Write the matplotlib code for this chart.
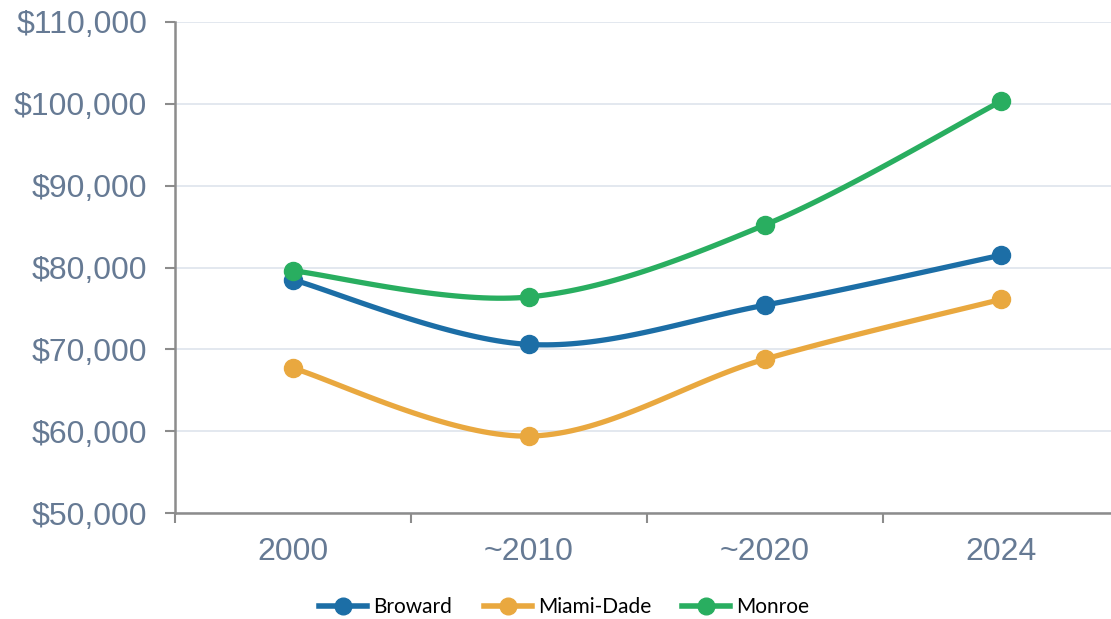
import matplotlib
matplotlib.use('Agg')
import matplotlib.pyplot as plt
from matplotlib.ticker import FuncFormatter
import numpy as np

categories = ['2000', '~2010', '~2020', '2024']
broward = [78500, 70600, 75400, 81500]
miami_dade = [67700, 59400, 68800, 76100]
monroe = [79600, 76400, 85200, 100300]

series = [
    ('Broward', broward, '#1c6ea6'),
    ('Miami-Dade', miami_dade, '#e9a83f'),
    ('Monroe', monroe, '#29ae60'),
]


def smooth_curve(xs, ys, steps=40):
    # Excel-style smoothed line: cubic Bezier segments, Catmull-Rom control points
    xs = np.asarray(xs, dtype=float)
    ys = np.asarray(ys, dtype=float)
    pts = np.column_stack([xs, ys])
    n = len(pts)
    out = []
    t = np.linspace(0, 1, steps)[:, None]
    for i in range(n - 1):
        p0 = pts[max(i - 1, 0)]
        p1 = pts[i]
        p2 = pts[i + 1]
        p3 = pts[min(i + 2, n - 1)]
        c1 = p1 + (p2 - p0) / 6.0
        c2 = p2 - (p3 - p1) / 6.0
        seg = ((1 - t) ** 3) * p1 + 3 * ((1 - t) ** 2) * t * c1 + 3 * (1 - t) * t ** 2 * c2 + t ** 3 * p2
        out.append(seg if i == 0 else seg[1:])
    out = np.vstack(out)
    return out[:, 0], out[:, 1]


label_color = '#667a94'
spine_color = '#8c8c8c'

fig = plt.figure(figsize=(11.11, 6.19), dpi=100)
ax = fig.add_axes([0.1575, 0.1712, 0.8496, 0.7933])

x = np.arange(len(categories))
handles = []
for name, vals, color in series:
    sx, sy = smooth_curve(x, vals)
    ax.plot(sx, sy, color=color, linewidth=3.8, solid_capstyle='round', zorder=3)
    ax.plot(x, vals, 'o', color=color, markersize=13, zorder=4)
    h, = ax.plot([], [], color=color, linewidth=4, marker='o', markersize=12, label=name)
    handles.append(h)

ax.set_xlim(-0.5, 3.5)
ax.set_ylim(50000, 110000)
ax.set_yticks(np.arange(50000, 110001, 10000))
ax.yaxis.set_major_formatter(FuncFormatter(lambda v, p: f'${v:,.0f}'))
ax.set_xticks(x)
ax.set_xticklabels(categories)
ax.set_xticks(np.arange(-0.5, 4.0, 1.0), minor=True)

ax.grid(axis='y', color='#e1e6ee', linewidth=1.3, zorder=0)
ax.set_axisbelow(True)

for side in ['top', 'right']:
    ax.spines[side].set_visible(False)
for side in ['left', 'bottom']:
    ax.spines[side].set_color(spine_color)
    ax.spines[side].set_linewidth(1.8)

ax.tick_params(axis='y', direction='out', length=7, width=1.5, color=spine_color,
               labelsize=23, labelcolor=label_color, pad=13)
ax.tick_params(axis='x', which='major', length=0, labelsize=23, labelcolor=label_color, pad=17)
ax.tick_params(axis='x', which='minor', direction='out', length=7, width=1.5, color=spine_color)
for lbl in ax.get_xticklabels() + ax.get_yticklabels():
    lbl.set_fontfamily('Liberation Sans')

fig.legend(handles=handles, loc='center', bbox_to_anchor=(0.508, 0.019), ncol=3, frameon=False,
           prop={'family': 'Lato', 'size': 15}, handlelength=2.3, columnspacing=1.5,
           handletextpad=0.3)

fig.savefig('out.png', dpi=100)
